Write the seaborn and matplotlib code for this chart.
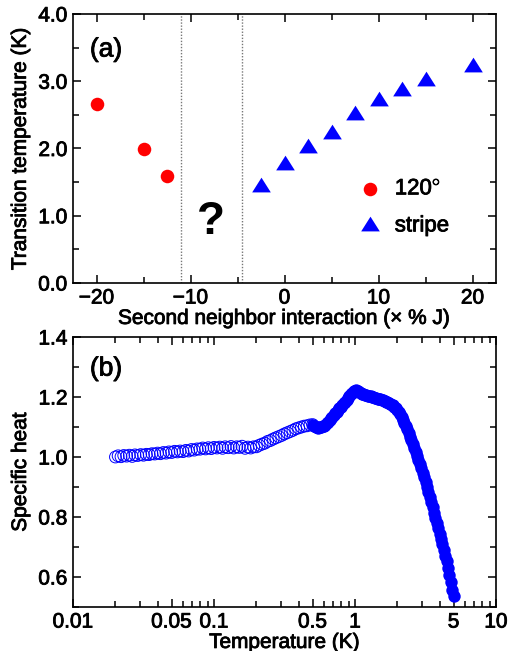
import numpy as np
import pandas as pd
import matplotlib
matplotlib.use("Agg")
import matplotlib.pyplot as plt
import matplotlib.patheffects as pe
import seaborn as sns
from matplotlib.ticker import MultipleLocator, FixedLocator, FixedFormatter, LogLocator, NullFormatter

# ---------------- data ----------------
# panel (a): transition temperatures
j2_120 = [-20.0, -15.0, -12.5]
tc_120 = [2.66, 1.99, 1.59]
j2_stripe = [-2.5, 0.0, 2.5, 5.0, 7.5, 10.0, 12.5, 15.0, 20.0]
tc_stripe = [1.43, 1.76, 2.01, 2.22, 2.50, 2.71, 2.85, 3.01, 3.21]
boundaries = [-11.0, -4.5]

# panel (b): specific heat, open symbols (low T) and filled symbols (high T)
t_open = [0.0200, 0.0209, 0.0219, 0.0229, 0.0240, 0.0251, 0.0263, 0.0275, 0.0288, 0.0302,
          0.0316, 0.0331, 0.0347, 0.0363, 0.0380, 0.0398, 0.0417, 0.0437, 0.0457, 0.0479,
          0.0501, 0.0525, 0.0550, 0.0575, 0.0603, 0.0631, 0.0661, 0.0692, 0.0724, 0.0759,
          0.0794, 0.0832, 0.0871, 0.0912, 0.0955, 0.100, 0.105, 0.110, 0.115, 0.120,
          0.126, 0.132, 0.138, 0.145, 0.151, 0.158, 0.166, 0.174, 0.182, 0.191,
          0.200, 0.209, 0.219, 0.229, 0.240, 0.251, 0.263, 0.275, 0.288, 0.302,
          0.316, 0.331, 0.347, 0.363, 0.380, 0.398, 0.417, 0.437, 0.457, 0.479, 0.501]
c_open = [1.000, 1.004, 1.001, 1.005, 1.003, 1.006, 1.002, 1.007, 1.005, 1.008,
          1.006, 1.009, 1.008, 1.011, 1.010, 1.013, 1.011, 1.015, 1.013, 1.017,
          1.015, 1.019, 1.017, 1.020, 1.018, 1.022, 1.020, 1.025, 1.023, 1.027,
          1.026, 1.030, 1.027, 1.031, 1.028, 1.032, 1.030, 1.033, 1.029, 1.034,
          1.031, 1.035, 1.030, 1.034, 1.032, 1.036, 1.029, 1.033, 1.030, 1.034,
          1.034, 1.039, 1.043, 1.046, 1.052, 1.055, 1.060, 1.064, 1.068, 1.072,
          1.077, 1.081, 1.085, 1.089, 1.094, 1.097, 1.100, 1.103, 1.104, 1.107, 1.108]
t_fill = [0.501, 0.513, 0.525, 0.537, 0.550, 0.562, 0.575, 0.589, 0.603, 0.617,
          0.631, 0.646, 0.661, 0.676, 0.692, 0.708, 0.724, 0.741, 0.759, 0.776,
          0.794, 0.813, 0.832, 0.851, 0.871, 0.891, 0.912, 0.933, 0.955, 0.977,
          1.000, 1.023, 1.047, 1.072, 1.096, 1.122, 1.148, 1.175, 1.202, 1.230,
          1.259, 1.288, 1.318, 1.349, 1.380, 1.413, 1.445, 1.479, 1.514, 1.549,
          1.585, 1.622, 1.660, 1.698, 1.738, 1.778, 1.820, 1.862, 1.905, 1.950,
          1.995, 2.042, 2.089, 2.138, 2.188, 2.239, 2.291, 2.344, 2.399, 2.455,
          2.512, 2.570, 2.630, 2.692, 2.754, 2.818, 2.884, 2.951, 3.020, 3.090,
          3.162, 3.236, 3.311, 3.388, 3.467, 3.548, 3.631, 3.715, 3.802, 3.890,
          3.981, 4.074, 4.169, 4.266, 4.365, 4.467, 4.571, 4.677, 4.786, 4.898, 5.012]
c_fill = [1.106, 1.102, 1.099, 1.100, 1.098, 1.101, 1.100, 1.103, 1.104, 1.108,
          1.112, 1.117, 1.123, 1.129, 1.134, 1.141, 1.146, 1.151, 1.157, 1.162,
          1.167, 1.173, 1.179, 1.185, 1.191, 1.198, 1.204, 1.210, 1.215, 1.219,
          1.221, 1.222, 1.220, 1.217, 1.214, 1.211, 1.209, 1.207, 1.206, 1.205,
          1.204, 1.203, 1.201, 1.200, 1.198, 1.197, 1.195, 1.194, 1.192, 1.190,
          1.189, 1.187, 1.185, 1.183, 1.181, 1.178, 1.175, 1.172, 1.168, 1.163,
          1.157, 1.150, 1.142, 1.133, 1.124, 1.113, 1.103, 1.092, 1.080, 1.068,
          1.056, 1.043, 1.031, 1.018, 1.004, 0.990, 0.976, 0.962, 0.947, 0.932,
          0.916, 0.900, 0.883, 0.866, 0.849, 0.832, 0.815, 0.797, 0.780, 0.762,
          0.745, 0.727, 0.709, 0.690, 0.671, 0.652, 0.630, 0.605, 0.582, 0.557, 0.535]

x_ticks_b = [0.01, 0.05, 0.1, 0.5, 1, 5, 10]
x_ticklabels_b = ["0.01", "0.05", "0.1", "0.5", "1", "5", "10"]

# ---------------- style ----------------
sns.set_theme(style="ticks")
plt.rcParams["font.family"] = ["Liberation Sans", "DejaVu Sans"]
plt.rcParams["mathtext.fontset"] = "custom"
plt.rcParams["mathtext.rm"] = "Liberation Sans"
plt.rcParams["axes.linewidth"] = 1.2
plt.rcParams["axes.edgecolor"] = "black"
plt.rcParams["text.color"] = "black"
plt.rcParams["axes.labelcolor"] = "black"
plt.rcParams["xtick.color"] = "black"
plt.rcParams["ytick.color"] = "black"

FS = 15
THICK = [pe.withStroke(linewidth=0.6, foreground="black")]
fig = plt.figure(figsize=(5.13, 6.51), dpi=100)
ax1 = fig.add_axes([0.1423, 0.5653, 0.8246, 0.4132])
ax2 = fig.add_axes([0.1423, 0.0676, 0.8246, 0.4147])

BLUE = "#0000ff"
RED = "#ff0000"
tri = [(-1.0, -0.527), (1.0, -0.527), (0.0, 1.053)]

# ---------------- panel (a) ----------------
df120 = pd.DataFrame({"j2": j2_120, "tc": tc_120})
dfst = pd.DataFrame({"j2": j2_stripe, "tc": tc_stripe})
for xb in boundaries:
    ax1.axvline(xb, color="#777777", lw=1.0, ls=(0, (1, 1.2)), zorder=1)
sns.scatterplot(data=df120, x="j2", y="tc", ax=ax1, color=RED, marker="o",
                s=95, edgecolor=RED, linewidth=0, label="120$^{\\circ}$", zorder=3)
sns.scatterplot(data=dfst, x="j2", y="tc", ax=ax1, color=BLUE, marker=tri,
                s=200, edgecolor=BLUE, linewidth=0, label="stripe", zorder=3)
ax1.set_xlim(-22.5, 22.5)
ax1.set_ylim(0, 4.0)
ax1.xaxis.set_major_locator(MultipleLocator(10))
ax1.xaxis.set_minor_locator(MultipleLocator(5))
ax1.yaxis.set_major_locator(MultipleLocator(1.0))
ax1.yaxis.set_minor_locator(MultipleLocator(0.5))
ax1.yaxis.set_major_formatter(matplotlib.ticker.FormatStrFormatter("%.1f"))
ax1.set_xlabel("Second neighbor interaction (× % J)", fontsize=FS, labelpad=1)
ax1.set_ylabel("Transition temperature (K)", fontsize=FS, labelpad=6)
ax1.text(0.04, 0.868, "(a)", transform=ax1.transAxes, fontsize=19, va="center", ha="left",
         path_effects=THICK)
ax1.text(-7.87, 0.9, "?", fontsize=33, fontweight="bold", ha="center", va="center")
leg = ax1.legend(loc="center left", bbox_to_anchor=(0.665, 0.281), frameon=False,
                 fontsize=16, handletextpad=0.62, labelspacing=0.72, handlelength=1.0,
                 borderpad=0.2, borderaxespad=0.0)
for t in leg.get_texts():
    t.set_path_effects(THICK)

# ---------------- panel (b) ----------------
dfo = pd.DataFrame({"T": t_open, "C": c_open})
dff = pd.DataFrame({"T": t_fill, "C": c_fill})
sns.scatterplot(data=dfo, x="T", y="C", ax=ax2, marker="o", s=72,
                facecolor="none", edgecolor=BLUE, linewidth=0.7, zorder=3)
sns.scatterplot(data=dff, x="T", y="C", ax=ax2, marker="o", s=80,
                color=BLUE, edgecolor=BLUE, linewidth=0, zorder=3)
ax2.set_xscale("log")
ax2.set_xlim(0.01, 10)
ax2.set_ylim(0.5, 1.4)
ax2.xaxis.set_major_locator(FixedLocator(x_ticks_b))
ax2.xaxis.set_major_formatter(FixedFormatter(x_ticklabels_b))
ax2.xaxis.set_minor_locator(LogLocator(base=10, subs=[2, 3, 4, 6, 7, 8, 9]))
ax2.xaxis.set_minor_formatter(NullFormatter())
ax2.yaxis.set_major_locator(MultipleLocator(0.2))
ax2.yaxis.set_minor_locator(MultipleLocator(0.1))
ax2.yaxis.set_major_formatter(matplotlib.ticker.FormatStrFormatter("%.1f"))
ax2.set_xlabel("Temperature (K)", fontsize=FS, labelpad=1)
ax2.set_ylabel("Specific heat", fontsize=FS, labelpad=6)
ax2.text(0.04, 0.883, "(b)", transform=ax2.transAxes, fontsize=19, va="center", ha="left",
         path_effects=THICK)

for ax in (ax1, ax2):
    ax.tick_params(which="both", direction="in", top=True, right=True,
                   labelsize=FS, pad=4, width=1.1)
    ax.tick_params(which="major", length=6)
    ax.tick_params(which="minor", length=4)
    for s in ax.spines.values():
        s.set_visible(True)
        s.set_linewidth(1.2)
    ax.xaxis.label.set_path_effects(THICK)
    ax.yaxis.label.set_path_effects(THICK)
    for lab in ax.get_xticklabels() + ax.get_yticklabels():
        lab.set_path_effects(THICK)

fig.savefig("out.png", dpi=100)
